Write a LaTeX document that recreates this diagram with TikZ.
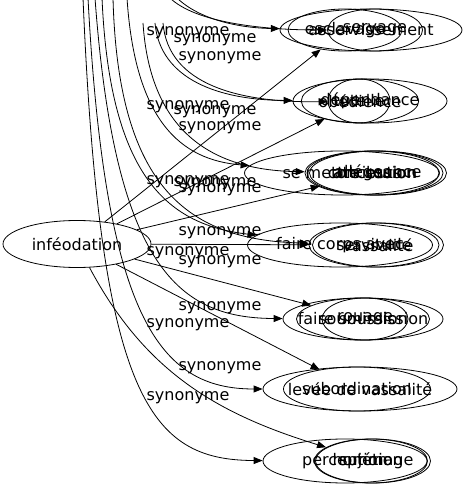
\documentclass[tikz,border=0pt]{standalone}
\usepackage{fontspec}
\setmainfont{DejaVu Sans}
\usetikzlibrary{arrows.meta,shapes.geometric}

\begin{document}
\begin{tikzpicture}[x=1pt,y=1pt,line width=0.8pt,>={Triangle[length=9pt,width=7pt]}]
    % Graph TiKZ Style
    \tikzstyle{word}=[ellipse,draw,inner sep=0pt,minimum height=44pt,font=\fontsize{16}{19}\selectfont]
    \tikzstyle{lbl}=[inner sep=0pt,font=\fontsize{16}{19}\selectfont]

    \useasboundingbox (0,0) rectangle (468,491);

    % Nodes, positions, and labels
    \node[word,minimum width=148pt,minimum height=47pt] (inf) at (77,247) {inféodation};

    \node[word,minimum width=182pt,minimum height=42pt] (c1a) at (371,461) {asservissement};
    \node[word,minimum width=110pt,minimum height=42pt] (c1b) at (345,461) {esclavage};
    \node[word,minimum width=95pt,minimum height=42pt]  (c1c) at (375,461) {servage};

    \node[word,minimum width=154pt] (c2a) at (370,390) {dépendance};
    \node[word,minimum width=115pt] (c2b) at (360,390) {obédience};
    \node[word,minimum width=62pt,inner xsep=-5pt] (c2c) at (359,390) {tutelle};

    \node[word,minimum width=195pt] (c3a) at (342,318) {se mettre sous};
    \node[word,minimum width=134pt] (c3b) at (372,318) {concession};
    \node[word,minimum width=136pt] (c3c) at (375,318) {attribution};
    \node[word,minimum width=137pt] (c3d) at (378,318) {allégeance};

    \node[word,minimum width=185pt] (c4a) at (340,246) {faire corps avec};
    \node[word,minimum width=130pt] (c4b) at (374,246) {servitude};
    \node[word,minimum width=131pt] (c4c) at (378,246) {vassalité};

    \node[word,minimum width=160pt,minimum height=42pt,inner xsep=-9pt] (c5a) at (363,172) {faire soumission};
    \node[word,minimum width=133pt,minimum height=42pt] (c5b) at (363,172) {soumission};
    \node[word,minimum width=86pt,minimum height=42pt]  (c5c) at (365,172) {rouage};

    \node[word,minimum width=194pt,inner xsep=-4pt] (c6a) at (360,102) {levée de vassalité};
    \node[word,minimum width=147pt,inner xsep=-8pt] (c6b) at (357,102) {subordination};

    \node[word,minimum width=164pt] (c7a) at (345,30) {perception};
    \node[word,minimum width=113pt] (c7b) at (371,30) {sujétion};
    \node[word,minimum width=115pt] (c7c) at (373,30) {hommage};

    % Edge labels
    \node[lbl] (s1)  at (188,458) {synonyme};
    \node[lbl] (s2)  at (215,451) {synonyme};
    \node[lbl] (s3)  at (220,433) {synonyme};
    \node[lbl] (s4)  at (188,384) {synonyme};
    \node[lbl] (s5)  at (215,379) {synonyme};
    \node[lbl] (s6)  at (220,363) {synonyme};
    \node[lbl] (s7)  at (188,309) {synonyme};
    \node[lbl] (s8)  at (215,307) {synonyme};
    \node[lbl] (s9)  at (220,301) {synonyme};
    \node[lbl] (s10) at (220,258) {synonyme};
    \node[lbl] (s11) at (188,238) {synonyme};
    \node[lbl] (s12) at (220,229) {synonyme};
    \node[lbl] (s13) at (220,183) {synonyme};
    \node[lbl] (s14) at (188,166) {synonyme};
    \node[lbl] (s15) at (220,123) {synonyme};
    \node[lbl] (s16) at (188,93)  {synonyme};

    % Free ends above the frame
    \coordinate (top7) at (83,493);
    \coordinate (top6) at (88,493);
    \coordinate (top5) at (95,493);
    \coordinate (top4a) at (102,493);
    \coordinate (top4b) at (113,493);
    \coordinate (top3a) at (127,493);
    \coordinate (top3b) at (143,468);
    \coordinate (top2a) at (155,468);
    \coordinate (top2c) at (163,468);
    \coordinate (top1c) at (170,493);
    \coordinate (top1a) at (177,493);

    % Edges
    \path[->]
    (inf) edge (c1b)
          edge (c2b)
          edge (c3c)
          edge (c4b)
          edge (c5b)
          edge (c6b)
          edge [out=-62,in=163] (c7b);

    \draw[->] (top7) .. controls (100,91) and (150,31) .. (c7a);
    \draw[->] (top6) .. controls (105,171) and (160,102) .. (c6a);
    \draw[->] (top5) .. controls (115,221) and (180,173) .. (c5a);
    \draw[->] (top4a) .. controls (110,311) and (170,266) .. (c4a);
    \draw[->] (top4b) .. controls (118,301) and (190,251) .. (c4b);
    \draw[->] (top3a) .. controls (135,371) and (180,331) .. (c3a);
    \draw[->] (top3b) .. controls (150,361) and (210,321) .. (c3b);
    \draw[->] (top2a) .. controls (160,411) and (220,391) .. (c2a);
    \draw[->] (top2c) .. controls (168,406) and (240,388) .. (c2c);
    \draw[->] (top1c) .. controls (195,469) and (260,461) .. (c1c);
    \draw[->] (top1a) .. controls (200,471) and (240,463) .. (c1a);

\end{tikzpicture}
\end{document}
